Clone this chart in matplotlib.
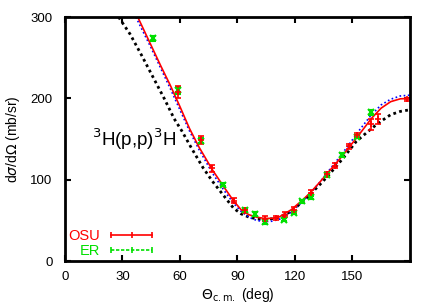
import matplotlib
matplotlib.use("Agg")
import matplotlib.pyplot as plt
from matplotlib.lines import Line2D

plt.rcParams['font.family'] = ['Liberation Sans', 'DejaVu Sans']

# OSU data (red)
osu_theta = [58.8, 71.0, 76.6, 88.1, 94.0, 104.5, 110.0, 115.0, 119.3, 128.3,
             136.7, 141.0, 148.5, 152.6, 159.6, 163.4, 178.5]
osu_xs = [208, 149, 114, 74, 62.5, 52, 53, 57, 63.3, 84,
          106.5, 117, 141, 155, 168, 175, 199]
osu_err = [7, 5, 4, 3, 3, 3, 3, 3, 3, 3,
           3, 3, 3, 3, 7, 6, 2]

# ER data (green)
er_theta = [45.8, 58.8, 71.0, 82.6, 93.8, 99.4, 104.5, 114.5, 119.3, 123.7,
            128.3, 137.0, 144.8, 152.5, 159.6]
er_xs = [274, 210, 148, 94, 62.5, 58, 48, 51, 59.6, 73.5,
         78.5, 105.5, 130.5, 153, 183]
er_err = [3, 4, 3, 2, 2, 2, 2, 2, 2, 2, 2, 2, 2, 2, 3]

# calculations
red_theta = [38, 45, 50, 55, 60, 65, 70, 77, 83, 88, 92, 96, 100, 104, 108, 112,
             118, 124, 128, 133, 137, 145, 150, 154, 160, 165, 170, 175, 180]
red_xs = [300, 265, 240, 216, 190, 163, 140, 112, 91, 74, 63, 57, 54, 52.5, 52.5, 54.5,
          63, 75, 84, 97, 108, 130, 145, 157, 175.5, 188, 196, 199.5, 200]

blue_theta = [37, 45, 50, 55, 60, 65, 70, 77, 83, 88, 92, 96, 100, 104, 108, 112,
              118, 124, 128, 133, 137, 145, 150, 154, 160, 165, 170, 175, 180]
blue_xs = [300, 262, 237, 212, 186, 160, 137, 108, 87, 71, 61, 54, 50, 48.5, 49, 51.5,
           60, 73, 83, 97, 109, 133, 149, 162, 180, 192, 199, 203, 204]

black_theta = [28, 34, 40, 46, 52, 57, 61, 66, 72, 77, 83, 88, 92, 96, 100, 104,
               108, 112, 118, 124, 128, 133, 137, 145, 152, 160, 165, 170, 175, 180]
black_xs = [300, 279, 253, 226, 199, 175, 160, 139, 115, 98, 80, 65, 58, 54, 52, 51,
            52, 54, 61, 73, 82, 94, 104, 126, 147, 163, 172, 180, 184, 186]

fig = plt.figure(figsize=(4.36, 3.05), dpi=100)
ax = fig.add_axes([0.149, 0.144, 0.791, 0.80])

ax.plot(black_theta, black_xs, color='black', ls=(0, (1, 1.2)), lw=2.0)
ax.plot(blue_theta, blue_xs, color='blue', ls=(0, (1, 1.5)), lw=1.2)
ax.plot(red_theta, red_xs, color='red', ls='-', lw=1.2)

ax.errorbar(er_theta, er_xs, yerr=er_err, fmt='x', color='#00e000', ms=4,
            mew=1.5, elinewidth=1.2, capsize=2, capthick=1.2)
ax.errorbar(osu_theta, osu_xs, yerr=osu_err, fmt='+', color='red', ms=4,
            mew=1.2, elinewidth=1.2, capsize=2, capthick=1.2)

ax.text(14, 150, r'$^3$H(p,p)$^3$H', fontsize=13.5, va='center', ha='left')

h_osu = Line2D([], [], color='red', lw=1.2, marker='|', ms=5, mew=1.2)
h_er = Line2D([], [], color='#00e000', lw=1.2, ls=(0, (2, 1)), marker='|', ms=5, mew=1.2)
ax.legend([h_osu, h_er], ['OSU', 'ER'], loc='lower left', frameon=False,
          markerfirst=False, numpoints=3, handlelength=3.4, fontsize=10.5,
          labelcolor=['red', '#00e000'], borderaxespad=0.0, labelspacing=0.05,
          handletextpad=0.5, borderpad=0.2, bbox_to_anchor=(0.0, 0.0))

ax.set_xlim(0, 180)
ax.set_ylim(0, 300)
ax.set_xticks([0, 30, 60, 90, 120, 150])
ax.set_yticks([0, 100, 200, 300])
ax.tick_params(direction='in', top=True, right=True, length=4, width=1.5,
               labelsize=9.5)
ax.tick_params(axis='y', pad=9)
ax.tick_params(axis='x', pad=7)
for s in ax.spines.values():
    s.set_linewidth(2)

ax.set_xlabel(r'$\Theta_{\rm c.m.}$ (deg)', fontsize=10, labelpad=2)
ax.set_ylabel(r'd$\sigma$/d$\Omega$ (mb/sr)', fontsize=10, labelpad=6)

fig.savefig('out.png', dpi=100)
